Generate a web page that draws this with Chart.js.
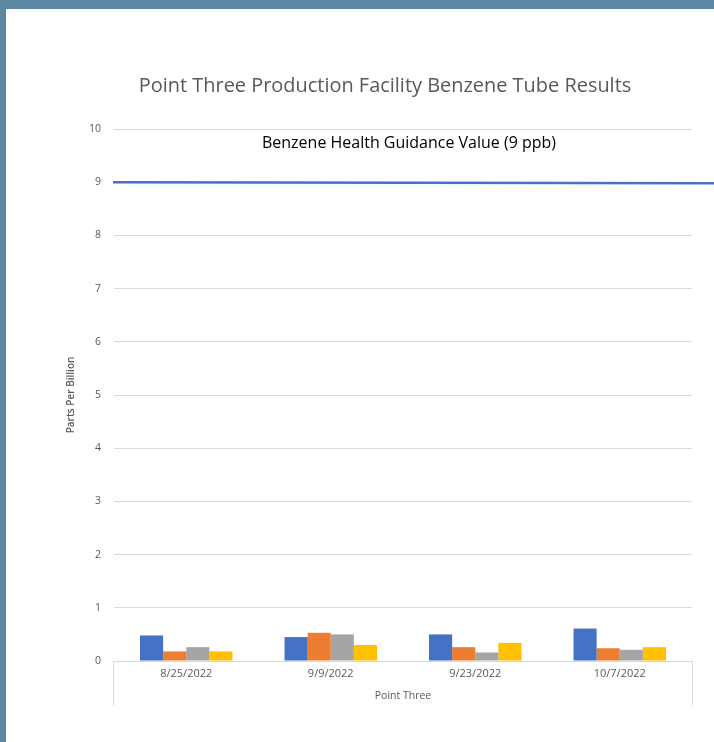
<!DOCTYPE html>
<html>
<head>
<meta charset="utf-8">
<script src="https://cdn.jsdelivr.net/npm/chart.js@4.4.1/dist/chart.umd.min.js"></script>
<style>
  html, body { margin: 0; padding: 0; background: #ffffff; }
  #wrap { position: relative; width: 714px; height: 742px; overflow: hidden; background: #fff; }
  #topbar { position: absolute; left: 0; top: 0; width: 714px; height: 9px; background: #5c87a0; }
  #leftbar { position: absolute; left: 0; top: 0; width: 6px; height: 742px; background: #5c87a0; }
  canvas { position: absolute; left: 0; top: 0; }
</style>
</head>
<body>
<div id="wrap">
  <canvas id="c" width="714" height="742"></canvas>
  <div id="topbar"></div>
  <div id="leftbar"></div>
</div>
<script>
const chartTitle = 'Point Three Production Facility Benzene Tube Results';
const categories = ['8/25/2022', '9/9/2022', '9/23/2022', '10/7/2022'];
const seriesNames = ['Tube 1', 'Tube 2', 'Tube 3', 'Tube 4'];
const tube1 = [0.48, 0.45, 0.50, 0.61];
const tube2 = [0.18, 0.53, 0.26, 0.24];
const tube3 = [0.26, 0.50, 0.16, 0.21];
const tube4 = [0.18, 0.30, 0.34, 0.26];
const guidanceValue = 9;
const guidanceLabel = 'Benzene Health Guidance Value (9 ppb)';
const yAxisTitle = 'Parts Per Billion';
const xAxisTitle = 'Point Three';
const yMin = 0, yMax = 10, yStep = 1;

const colors = ['#4472c4', '#ed7d31', '#a5a5a5', '#ffc000'];
const seriesValues = [tube1, tube2, tube3, tube4];

const FONT = '"Open Sans", "Noto Sans", sans-serif';

function fitFont(ctx, text, targetW, base, weight) {
  ctx.font = weight + ' ' + base + 'px ' + FONT;
  const w = ctx.measureText(text).width;
  const s = base * targetW / w;
  ctx.font = weight + ' ' + s.toFixed(2) + 'px ' + FONT;
}

const decorPlugin = {
  id: 'decor',
  afterDraw(chart) {
    const ctx = chart.ctx;
    const ca = chart.chartArea;
    const y = chart.scales.y;
    // title
    ctx.save();
    ctx.fillStyle = '#595959';
    fitFont(ctx, chartTitle, 493, 18, 'normal');
    ctx.textAlign = 'center';
    ctx.textBaseline = 'middle';
    ctx.fillText(chartTitle, 385, 86);
    ctx.restore();
    // guidance line
    const gy = y.getPixelForValue(guidanceValue);
    ctx.save();
    ctx.strokeStyle = '#4472c4';
    ctx.lineWidth = 2.5;
    ctx.beginPath();
    ctx.moveTo(ca.left - 1, gy);
    ctx.lineTo(chart.width, gy + 1);
    ctx.stroke();
    ctx.fillStyle = '#000000';
    fitFont(ctx, guidanceLabel, 294, 14, 'normal');
    ctx.textAlign = 'center';
    ctx.textBaseline = 'middle';
    ctx.fillText(guidanceLabel, 409, y.getPixelForValue(guidanceValue + 0.73));
    ctx.restore();
    // category box vertical lines
    ctx.save();
    ctx.strokeStyle = '#d9d9d9';
    ctx.lineWidth = 1;
    ctx.beginPath();
    ctx.moveTo(Math.round(ca.left) - 0.5, ca.bottom);
    ctx.lineTo(Math.round(ca.left) - 0.5, ca.bottom + 44);
    ctx.moveTo(Math.round(ca.right) + 0.5, ca.bottom);
    ctx.lineTo(Math.round(ca.right) + 0.5, ca.bottom + 44);
    ctx.stroke();
    ctx.restore();
  }
};

new Chart(document.getElementById('c'), {
  type: 'bar',
  data: {
    labels: categories,
    datasets: seriesValues.map((vals, i) => ({
      label: seriesNames[i],
      data: vals,
      backgroundColor: colors[i],
      borderWidth: 0,
      barPercentage: 1.0,
      categoryPercentage: 0.64
    }))
  },
  options: {
    responsive: false,
    animation: false,
    devicePixelRatio: 1,
    layout: { padding: { left: 0, right: 22, top: 129, bottom: 0 } },
    plugins: {
      legend: { display: false },
      title: { display: false },
      tooltip: { enabled: false }
    },
    scales: {
      x: {
        grid: { display: false, drawTicks: false },
        border: { display: false },
        ticks: { color: '#595959', font: { family: FONT, size: 11 }, padding: 6, maxRotation: 0 },
        title: { display: true, text: xAxisTitle, color: '#595959', font: { family: FONT, size: 10.5 }, padding: { top: 0, bottom: 40 } },
        afterFit(scale) { scale.height = 81; }
      },
      y: {
        min: yMin, max: yMax,
        grid: { color: '#d9d9d9', drawTicks: false, lineWidth: 1 },
        border: { display: false },
        ticks: { stepSize: yStep, color: '#595959', font: { family: FONT, size: 10.5 }, padding: 13 },
        title: { display: true, text: yAxisTitle, color: '#595959', font: { family: FONT, size: 10, weight: '600' }, padding: { top: 65, bottom: 0 } },
        afterFit(scale) { scale.width = 114; }
      }
    }
  },
  plugins: [decorPlugin]
});
</script>
</body>
</html>
